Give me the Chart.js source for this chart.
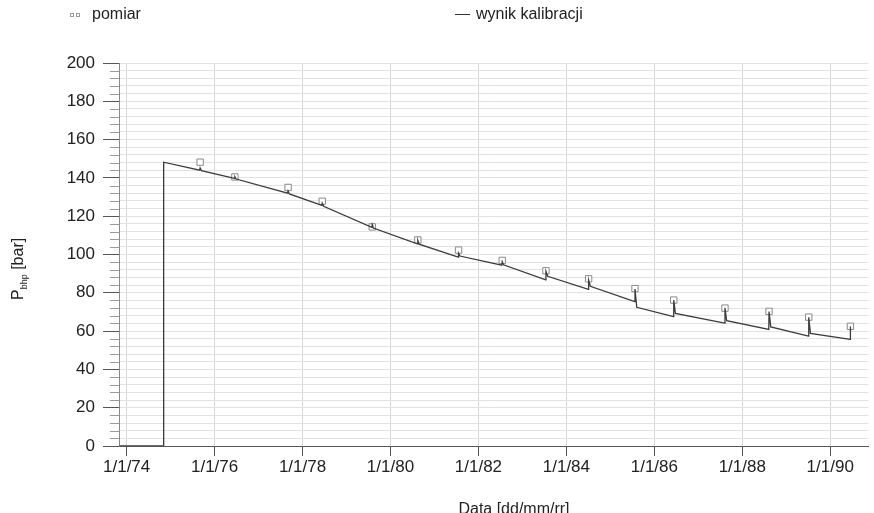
<!DOCTYPE html>
<html>
<head>
<meta charset="utf-8">
<script src="https://cdn.jsdelivr.net/npm/chart.js@4.4.0/dist/chart.umd.min.js"></script>
<style>
  html, body { margin: 0; padding: 0; background: #fff; }
  #wrap { width: 874px; height: 513px; }
</style>
</head>
<body>
<div id="wrap"><canvas id="chart"></canvas></div>
<script>
// dates as decimal years
const tickYears = [1974, 1976, 1978, 1980, 1982, 1984, 1986, 1988, 1990];

const measDates = [1975.671, 1976.461, 1977.671, 1978.448, 1979.584, 1980.622, 1981.548, 1982.541,
  1983.535, 1984.505, 1985.560, 1986.441, 1987.606, 1988.608, 1989.511, 1990.459];
const measValues = [148.2, 140.5, 135.0, 127.8, 114.4, 107.6, 102.3, 96.9,
  91.5, 87.3, 82.2, 76.2, 72.0, 70.3, 67.3, 62.5];

const calDates = [1973.826, 1974.842, 1974.842,
  1975.66, 1975.671, 1975.70,
  1976.45, 1976.461, 1976.49,
  1977.66, 1977.671, 1977.70,
  1978.44, 1978.448, 1978.48,
  1979.575, 1979.584, 1979.61,
  1980.61, 1980.622, 1980.65,
  1981.54, 1981.548, 1981.58,
  1982.53, 1982.541, 1982.57,
  1983.53, 1983.535, 1983.575,
  1984.50, 1984.505, 1984.545,
  1985.555, 1985.560, 1985.60,
  1986.436, 1986.441, 1986.48,
  1987.60, 1987.606, 1987.645,
  1988.603, 1988.608, 1988.648,
  1989.506, 1989.511, 1989.55,
  1990.454, 1990.459];
const calValues = [0, 0, 148.2,
  144.0, 145.2, 143.8,
  139.8, 140.6, 139.4,
  132.0, 133.2, 131.6,
  125.6, 126.8, 125.2,
  114.2, 115.6, 113.8,
  105.6, 107.4, 105.4,
  98.6, 100.6, 99.2,
  94.4, 96.2, 94.6,
  86.8, 91.2, 88.6,
  81.8, 86.6, 83.4,
  75.4, 82.0, 72.4,
  67.6, 76.2, 69.2,
  64.2, 72.2, 65.4,
  60.9, 70.2, 62.2,
  57.4, 67.2, 58.8,
  55.7, 62.4];

const FONT = "'Liberation Sans', Arial, sans-serif";
const TEXT = '#222';

const extras = {
  id: 'extras',
  afterDraw(chart) {
    const ctx = chart.ctx;
    const area = chart.chartArea;
    const y = chart.scales.y;
    ctx.save();

    // minor y ticks
    ctx.strokeStyle = '#9a9a9a';
    ctx.lineWidth = 1;
    y.ticks.forEach(t => {
      if (t.value % 20 === 0) return;
      const py = Math.round(y.getPixelForValue(t.value)) + 0.5;
      ctx.beginPath();
      ctx.moveTo(area.left - 9, py);
      ctx.lineTo(area.left, py);
      ctx.stroke();
    });

    // legend
    const ds = chart.data.datasets;
    ctx.fillStyle = TEXT;
    ctx.font = '16px ' + FONT;
    ctx.textBaseline = 'middle';
    ctx.textAlign = 'left';
    ctx.strokeStyle = '#9a9a9a';
    ctx.strokeRect(70.5, 13.5, 3, 3);
    ctx.strokeRect(76.5, 13.5, 3, 3);
    ctx.fillText(ds[1].label, 92, 15);
    ctx.strokeStyle = '#333';
    ctx.beginPath();
    ctx.moveTo(455, 14.5);
    ctx.lineTo(470, 14.5);
    ctx.stroke();
    ctx.fillText(ds[0].label, 476, 15);

    // x title
    ctx.textAlign = 'center';
    ctx.textBaseline = 'alphabetic';
    ctx.fillText('Data [dd/mm/rr]', 514, 514);

    // y title with subscript
    ctx.translate(23, 300);
    ctx.rotate(-Math.PI / 2);
    ctx.textAlign = 'left';
    ctx.font = '16px ' + FONT;
    ctx.fillText('P', 0, 0);
    let w = ctx.measureText('P').width;
    ctx.font = '9px ' + FONT;
    ctx.fillText('bhp', w, 4);
    w += ctx.measureText('bhp').width;
    ctx.font = '16px ' + FONT;
    ctx.fillText(' [bar]', w, 0);

    ctx.restore();
  }
};

new Chart(document.getElementById('chart'), {
  type: 'scatter',
  data: {
    datasets: [
      {
        label: 'wynik kalibracji',
        data: calDates.map((d, i) => ({ x: d, y: calValues[i] })),
        showLine: true,
        borderColor: '#3c3c3c',
        borderWidth: 1.3,
        pointRadius: 0,
        tension: 0,
        order: 0
      },
      {
        label: 'pomiar',
        data: measDates.map((d, i) => ({ x: d, y: measValues[i] })),
        showLine: false,
        pointStyle: 'rect',
        pointRadius: 4.5,
        borderColor: '#8a8a8a',
        backgroundColor: '#fff',
        borderWidth: 1,
        order: 1
      }
    ]
  },
  options: {
    responsive: true,
    maintainAspectRatio: false,
    animation: false,
    devicePixelRatio: 1,
    layout: { padding: { top: 63, left: 0, right: 0, bottom: 0 } },
    plugins: {
      legend: { display: false },
      tooltip: { enabled: false }
    },
    scales: {
      x: {
        type: 'linear',
        min: 1973.826,
        max: 1990.87,
        afterBuildTicks: s => { s.ticks = tickYears.map(v => ({ value: v })); },
        afterFit: s => { s.height = 67; },
        grid: { color: '#d8d8d8', tickColor: '#555', tickLength: 10 },
        border: { color: '#555' },
        ticks: {
          color: TEXT,
          font: { family: FONT, size: 17 },
          padding: 1,
          maxRotation: 0,
          autoSkip: false,
          callback: v => '1/1/' + String(v).slice(2)
        }
      },
      y: {
        min: 0,
        max: 200,
        afterFit: s => { s.width = 119; },
        grid: {
          color: '#e2e2e2',
          tickLength: 16,
          tickColor: c => (c.tick && c.tick.value % 20 === 0) ? '#555' : 'rgba(0,0,0,0)'
        },
        border: { color: '#8a8a8a' },
        ticks: {
          stepSize: 4,
          autoSkip: false,
          color: TEXT,
          font: { family: FONT, size: 17 },
          padding: 8,
          callback: v => v % 20 === 0 ? v : ''
        }
      }
    }
  },
  plugins: [extras]
});
</script>
</body>
</html>
